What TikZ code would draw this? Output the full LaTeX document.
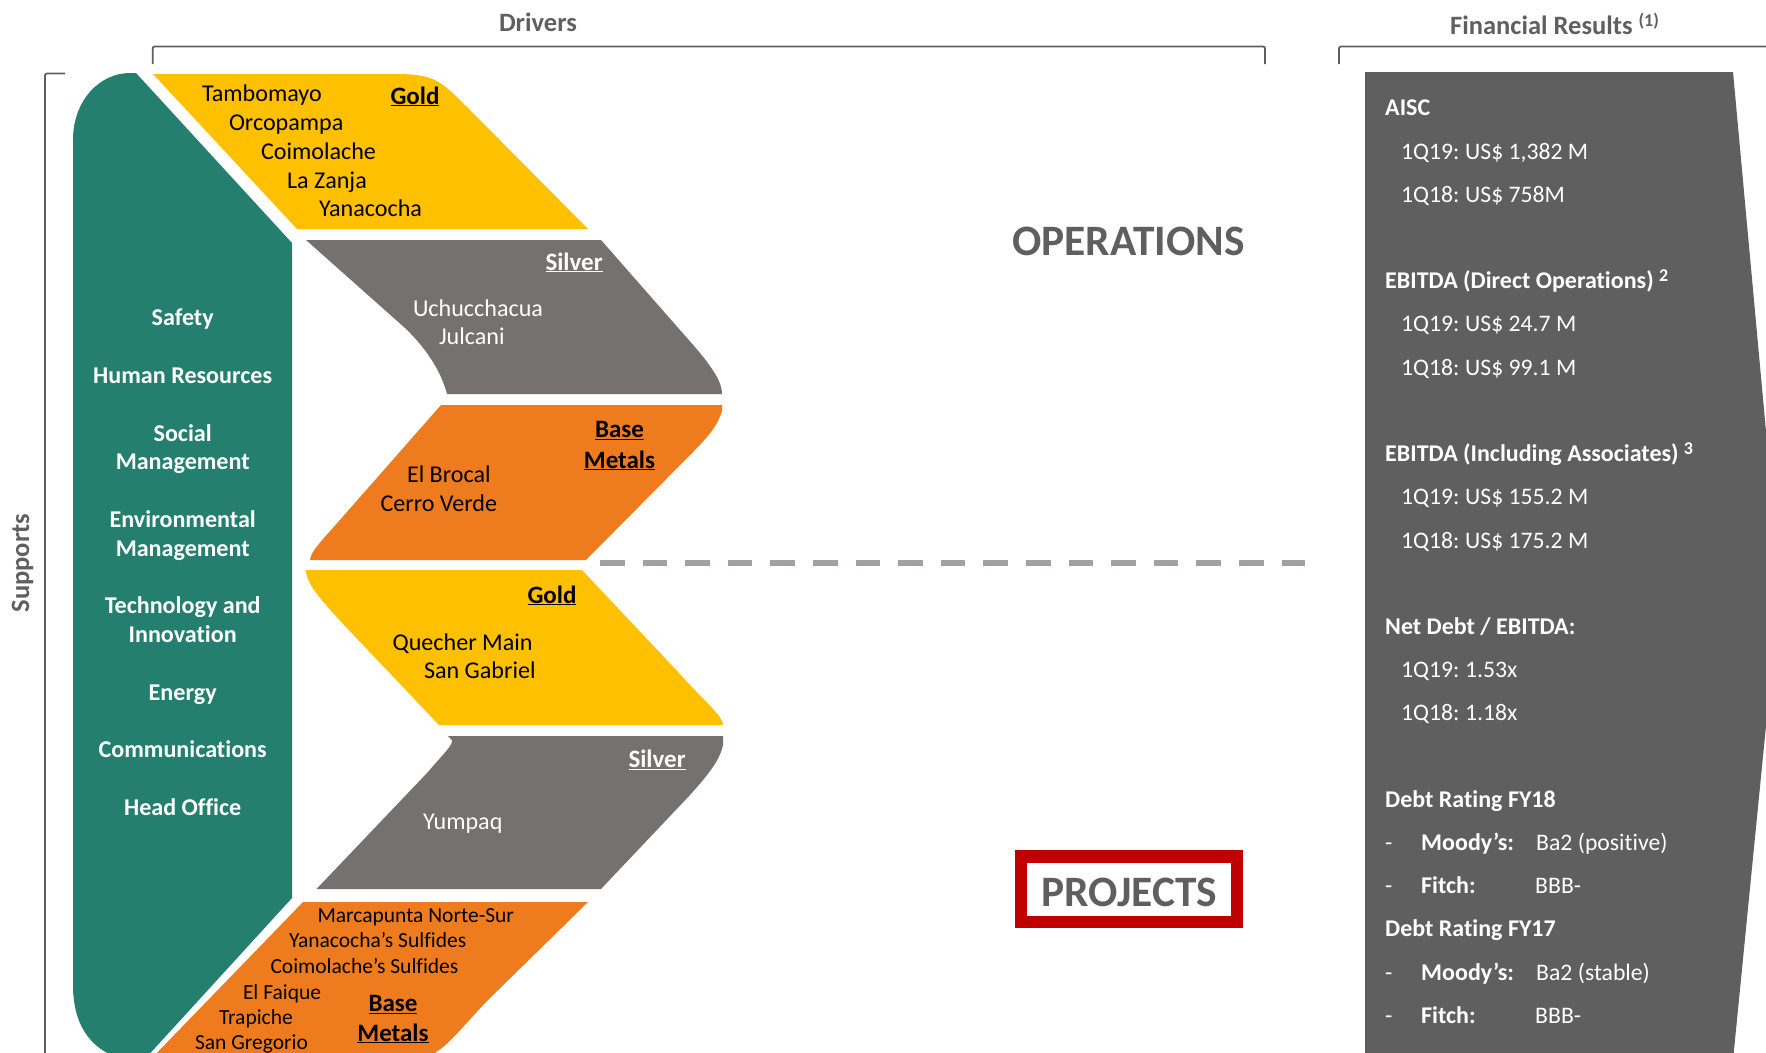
\documentclass[tikz,border=0pt]{standalone}
\usepackage{fontspec}
\setmainfont{Carlito}[Ligatures=NoCommon]
\definecolor{teal1}{HTML}{247F6F}
\definecolor{gold1}{HTML}{FFC000}
\definecolor{silver1}{HTML}{767171}
\definecolor{orange1}{HTML}{EE7C1E}
\definecolor{panel}{HTML}{5F5F5F}
\definecolor{dash1}{HTML}{A5A0A0}
\definecolor{red1}{HTML}{C00000}
\newcommand{\sz}[1]{\fontsize{#1}{#1}\selectfont}
\newcommand{\supr}[1]{\raisebox{7pt}{\sz{18}#1}}
\newcommand{\qsp}{\kern0.25pt\ }
\tikzset{
 lbl/.style={anchor=base west,inner sep=0pt,outer sep=0pt,font=\sz{24.1},text=black},
 wlbl/.style={lbl,text=white},
 tag/.style={lbl,font=\sz{25}\bfseries},
 wtag/.style={tag,text=white},
 ctag/.style={tag,anchor=base},
 side/.style={anchor=base,inner sep=0pt,font=\sz{24.1}\bfseries,text=white},
 small/.style={lbl,font=\sz{21.5}},
 head/.style={anchor=base west,inner sep=0pt,font=\sz{26.5}\bfseries,text=panel},
 big/.style={anchor=base west,inner sep=0pt,font=\sz{43.4}\bfseries,text=panel},
 ph/.style={anchor=base west,inner sep=0pt,font=\sz{24}\bfseries,text=white},
 pv/.style={anchor=base west,inner sep=0pt,font=\sz{23.7},text=white},
 brack/.style={draw=panel,line width=1.8pt,rounded corners=2pt},
}
\begin{document}
\begin{tikzpicture}[x=1pt,y=-1pt]
\useasboundingbox (0,0) rectangle (1766,1052);
\clip (0,0) rectangle (1766,1052);
% brackets
\draw[brack] (65,73.5) -- (45,73.5) -- (45,1060);
\draw[brack] (152.7,64) -- (152.7,46.5) -- (1265,46.5) -- (1265,64);
\draw[brack] (1339,64) -- (1339,46.5) -- (1780,46.5);
% teal
\fill[teal1] (136,73) -- (292,243) -- (292,898) -- (144,1060) -- (125,1060)
  .. controls (95,1052) and (73,1030) .. (73,985)
  -- (73,140) .. controls (73,100) and (100,73) .. (130,73) -- cycle;
% gold 1
\fill[gold1] (153,74) -- (400,74) .. controls (435,75) and (440,80) .. (470,110)
  -- (588,229) -- (297,229) -- cycle;
% silver 1
\fill[silver1] (306,240) -- (601,240) -- (680,330)
  .. controls (705,358) and (722,378) .. (722,394) -- (447,394)
  .. controls (442,375) and (430,352) .. (405,328) -- cycle;
% orange 1
\fill[orange1] (441,405) -- (722,405) -- (722,411)
  .. controls (718,425) and (708,437) .. (692,453) -- (586,560) -- (310,560)
  .. controls (310,552) and (325,537) .. (339,521) -- cycle;
% gold 2
\fill[gold1] (306,570) -- (582,570) -- (679,673)
  .. controls (705,702) and (723,716) .. (723,725) -- (439,725) -- (344,625)
  .. controls (325,604) and (306,585) .. (306,570) -- cycle;
% silver 2
\fill[silver1] (448,736) -- (723,736) -- (723,745)
  .. controls (720,760) and (708,775) .. (690,795) -- (601,889) -- (316.5,889) -- (427,773)
  .. controls (445,752) and (453,745) .. (452,740) -- cycle;
% orange 2
\fill[orange1] (303,902) -- (588,902) -- (485,1003)
  .. controls (460,1030) and (448,1045) .. (436,1052) -- (436,1060) -- (150,1060) -- cycle;
% panel
\fill[panel] (1365,72) -- (1733,72) -- (1780,584) -- (1733,1060) -- (1365,1060) -- cycle;
% dashed divider
\draw[dash1,line width=6pt,dash pattern=on 24.6pt off 18pt] (600,563) -- (1305,563);
% projects box
\draw[red1,line width=12.3pt] (1021,856.5) rectangle (1237,922);

% headers
\node[head,anchor=base] (drivers) at (538,31.2) {Drivers};
\node[head] (fin) at (1450,34) {Financial Results \supr{(1)}};
\node[head,anchor=base,rotate=90] (supports) at (29,563) {Supports};
\node[big] (ops) at (1012,255) {OPERATIONS};
\node[big] (proj) at (1041,906) {PROJECTS};

% gold 1
\node[lbl] (t1) at (202,101) {Tambomayo};
\node[lbl] (t2) at (229,130) {Orcopampa};
\node[lbl] (t3) at (261,159) {Coimolache};
\node[lbl] (t4) at (287,188) {La Zanja};
\node[lbl] (t5) at (319,216) {Yanacocha};
\node[tag] (gold1t) at (390.5,104) {\underline{Gold}};
% silver 1
\node[wtag] (silver1t) at (545.5,270) {\underline{Silver}};
\node[wlbl] (u1) at (413,316) {Uchucchacua};
\node[wlbl] (u2) at (439,344) {Julcani};
% orange 1
\node[ctag] (base1a) at (619.5,437.5) {\underline{Base}};
\node[ctag] (base1b) at (619.5,468) {\underline{Metals}};
\node[lbl] (e1) at (407,482) {El Brocal};
\node[lbl] (e2) at (380.5,511) {Cerro Verde};
% gold 2
\node[tag] (gold2t) at (527.5,603) {\underline{Gold}};
\node[lbl] (q1) at (392.6,650) {Quecher Main};
\node[lbl] (q2) at (424,678.5) {San Gabriel};
% silver 2
\node[wtag] (silver2t) at (628.5,767.5) {\underline{Silver}};
\node[wlbl] (y1) at (423,829) {Yumpaq};
% orange 2
\node[small] (m1) at (317.5,922.5) {Marcapunta Norte-Sur};
\node[small] (m2) at (289,947.5) {Yanacocha’s Sulfides};
\node[small] (m3) at (270.5,973.5) {Coimolache’s Sulfides};
\node[small] (m4) at (243,999.5) {El Faique};
\node[small] (m5) at (219,1024.5) {Trapiche};
\node[small] (m6) at (195,1049.5) {San Gregorio};
\node[ctag] (base2a) at (393,1011.5) {\underline{Base}};
\node[ctag] (base2b) at (393,1041) {\underline{Metals}};

% teal labels
\node[side] (s1) at (182.7,325) {Safety};
\node[side] (s2) at (182.7,383) {Human Resources};
\node[side] (s3) at (182.7,441) {Social};
\node[side] (s3b) at (182.7,469.5) {Management};
\node[side] (s4) at (182.7,527) {Environmental};
\node[side] (s4b) at (182.7,556) {Management};
\node[side] (s5) at (182.7,613.5) {Technology and};
\node[side] (s5b) at (182.7,642.5) {Innovation};
\node[side] (s6) at (182.7,700) {Energy};
\node[side] (s7) at (182.7,757.5) {Communications};
\node[side] (s8) at (182.7,815) {Head Office};

% panel text
\node[ph] (a0) at (1385,115) {AISC};
\node[pv] (a1) at (1401,159) {1Q19:\qsp US\$ 1,382 M};
\node[pv] (a2) at (1401,202.5) {1Q18:\qsp US\$ 758M};
\node[ph] (b0) at (1385,288) {EBITDA (Direct Operations) \supr{2}};
\node[pv] (b1) at (1401,331) {1Q19:\qsp US\$ 24.7 M};
\node[pv] (b2) at (1401,375) {1Q18:\qsp US\$ 99.1 M};
\node[ph] (c0) at (1385,461.4) {EBITDA (Including Associates) \supr{3}};
\node[pv] (c1) at (1401,504) {1Q19:\qsp US\$ 155.2 M};
\node[pv] (c2) at (1401,548) {1Q18:\qsp US\$ 175.2 M};
\node[ph] (d0) at (1385,634) {Net Debt / EBITDA:};
\node[pv] (d1) at (1401,677) {1Q19:\qsp 1.53x};
\node[pv] (d2) at (1401,720) {1Q18:\qsp 1.18x};
\node[ph] (f0) at (1385,807) {Debt Rating FY18};
\node[pv] (f1d) at (1385,850) {-};
\node[ph] (f1a) at (1421,850) {Moody’s:};
\node[pv] (f1b) at (1536,850) {Ba2 (positive)};
\node[pv] (f2d) at (1385,893) {-};
\node[ph] (f2a) at (1421,893) {Fitch:};
\node[pv] (f2b) at (1535,893) {BBB-};
\node[ph] (g0) at (1385,936.5) {Debt Rating FY17};
\node[pv] (g1d) at (1385,980) {-};
\node[ph] (g1a) at (1421,980) {Moody’s:};
\node[pv] (g1b) at (1536,980) {Ba2 (stable)};
\node[pv] (g2d) at (1385,1023.5) {-};
\node[ph] (g2a) at (1421,1023.5) {Fitch:};
\node[pv] (g2b) at (1535,1023.5) {BBB-};
\end{tikzpicture}
\end{document}
